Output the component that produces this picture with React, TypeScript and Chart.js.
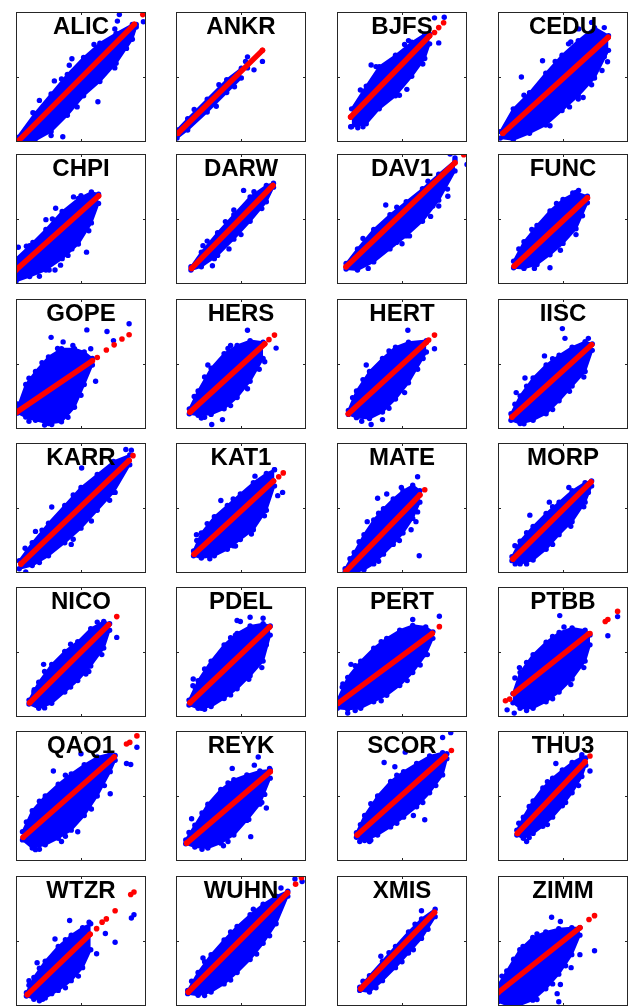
import React, { useEffect, useRef } from 'react';
import { Chart, registerables } from 'chart.js';

Chart.register(...registerables);

// ---------------- DATA (values in normalized axis units 0..100) ----------------
const stations = [
  'ALIC', 'ANKR', 'BJFS', 'CEDU',
  'CHPI', 'DARW', 'DAV1', 'FUNC',
  'GOPE', 'HERS', 'HERT', 'IISC',
  'KARR', 'KAT1', 'MATE', 'MORP',
  'NICO', 'PDEL', 'PERT', 'PTBB',
  'QAQ1', 'REYK', 'SCOR', 'THU3',
  'WTZR', 'WUHN', 'XMIS', 'ZIMM',
];

// Fitted (red) line: start and end
const fitStart = [
  [1.5, 0.5], [1.5, 6.75], [10.5, 19.25], [3.75, 6.75],
  [0, 10.75], [12, 12], [7, 13.25], [12.5, 13.75],
  [0.5, 13], [10.75, 13], [8.75, 11.75], [10.75, 9.25],
  [3.75, 7], [14, 14.5], [7, 1.5], [11.5, 10.75],
  [10.5, 11], [10.75, 11], [0.75, 10.5], [12, 18],
  [5.5, 18.25], [8.25, 13.75], [15.5, 20], [15, 21.25],
  [8.75, 8.75], [9.5, 10.75], [18.25, 13.25], [0, 10.25],
];
const fitEnd = [
  [91, 90.5], [66.5, 70.5], [71.25, 81.75], [84.75, 80.5],
  [63.5, 67.75], [74.5, 75.75], [90.75, 93.25], [68.75, 66.25],
  [58.75, 52.5], [68.25, 65.5], [68.75, 66.75], [72, 64.75],
  [87, 86.5], [75, 70.75], [63.75, 60], [71.5, 70],
  [71.25, 71], [72, 69.25], [73.25, 64.25], [69.5, 63.75],
  [75.5, 80], [72.5, 68.75], [83.25, 80.5], [67, 76.25],
  [57, 55.25], [85.75, 87], [75, 72], [63, 60.25],
];
// Isolated red points beyond the fitted band
const fitExtra = [
  [[97.5, 98]], [], [[75, 84.25], [78.25, 88], [82, 91.75]], [],
  [], [], [[97.5, 99.5]], [],
  [[62.5, 55], [69.5, 60.75], [75.5, 64.75], [81.5, 69.25], [87, 72.5]], [[71.5, 68.75], [75.75, 72.25]], [[70.5, 68.5], [75, 72.25]], [],
  [[90, 90.25]], [[79, 74], [82.5, 77]], [[67.5, 64]], [],
  [[77.5, 77.25]], [], [[78.75, 69.5]], [[5.75, 12.5], [9, 13.75], [70.75, 64.25], [82.5, 73.5], [84.5, 75], [92, 81.25]],
  [[85, 90], [87.5, 91.25], [93, 96.25]], [], [[88, 85]], [[70.75, 80.75]],
  [[62, 59.5], [66.25, 64.5], [69.5, 67], [76.25, 73.25], [88.25, 85.75], [90.75, 87.75]], [[92, 93.75], [96.5, 98.75]], [], [[70, 66.5], [74.25, 69.5]],
];

// Dense blue cloud: envelope read at x stations (lower and upper edge)
const bandX = [
  [1, 14.5, 27, 39.5, 52, 64.5, 77, 89.5, 92.5],
  [0.75, 9, 24, 39, 50.25],
  [11.25, 22.5, 32.5, 45, 57.5, 67.5, 71.25],
  [1.75, 11.75, 24.25, 36.75, 49.25, 61.75, 74.25, 85],
  [0, 10.5, 23, 35.5, 48, 58, 63.5],
  [11.5, 19.5, 32, 44.5, 57, 69.5, 75],
  [7, 15.75, 28.25, 40.75, 53.25, 65.75, 78.25, 90.75],
  [12, 20, 30, 40, 50, 60, 68.75],
  [1.25, 7.5, 15, 25, 35, 45, 52.5, 58.75],
  [10.25, 17, 27, 37, 47, 57, 67],
  [8.75, 15, 25, 35, 45, 55, 68.75],
  [10, 17, 27, 37, 47, 57, 67, 72.5],
  [2.5, 12.5, 25, 37.5, 50, 62.5, 75, 87.5],
  [13.5, 19.5, 29.5, 39.5, 49.5, 59.5, 69.5, 75.75],
  [6.25, 13.25, 20.75, 28.25, 35.75, 43.25, 50.75, 58.25, 63.75],
  [10.75, 17, 27, 37, 47, 57, 67, 72],
  [10, 17.5, 27.5, 37.5, 47.5, 57.5, 67.5, 72],
  [10, 17, 27, 37, 47, 57, 67, 72.5],
  [0.25, 8.25, 18.25, 28.25, 38.25, 48.25, 58.25, 68.25, 73.75],
  [11.5, 17, 27, 37, 47, 57, 67, 70.75],
  [5, 12.5, 22.5, 32.5, 42.5, 52.5, 62.5, 72.5, 76.25],
  [7.5, 14.5, 24.5, 34.5, 44.5, 54.5, 64.5, 72.5],
  [15, 21.25, 31.25, 41.25, 51.25, 61.25, 71.25, 81.25, 84.5],
  [14.5, 19.5, 27, 34.5, 42, 49.5, 57, 64.5, 67.5],
  [8, 13.75, 22.5, 32.5, 42.5, 51.25, 57.5],
  [9, 17, 27, 37, 47, 57, 67, 77, 86],
  [17.5, 25, 35, 45, 55, 65, 75.5],
  [0, 6.75, 16.75, 26.75, 36.75, 46.75, 56.75, 63],
];
const bandLo = [
  [0, 1, 8, 20.5, 35.5, 46.5, 60.5, 79, 88.5],
  [3, 9.25, 23, 38, 49.25],
  [11.75, 14, 25.5, 35.5, 50.5, 64.25, 75.5],
  [3, 1.75, 6.75, 13, 24.25, 35.5, 49.25, 70.5],
  [2, 5.75, 10.75, 19.5, 30.75, 47, 62],
  [10.75, 13.25, 22, 34.5, 48.25, 63.25, 74.5],
  [11.5, 10.75, 17, 27, 37, 48.25, 64.5, 87],
  [12.5, 12, 15, 22.5, 31.25, 42.5, 62.5],
  [12.25, 9.25, 6.75, 4.25, 5.5, 16.75, 34.25, 49.25],
  [11.75, 10.5, 11.25, 15.5, 24.25, 36.75, 54.25],
  [11.25, 8.75, 8, 13, 23, 35.5, 59.25],
  [6.75, 4.25, 6.75, 11.75, 21.75, 33, 44.25, 60.5],
  [3.25, 5.75, 13.25, 23.25, 34.5, 48.25, 62, 83.25],
  [13.25, 11.5, 13.25, 18.25, 25.75, 33.25, 48.25, 67],
  [0.75, 0.75, 2.5, 7, 14.5, 22, 30.75, 42, 54.5],
  [9.5, 7, 10, 18.25, 29.5, 39.5, 54.5, 67],
  [10, 6.75, 10.5, 19.25, 28, 39.25, 53, 66.75],
  [9.25, 6.75, 8, 14.25, 21.75, 31.75, 43, 63],
  [6.75, 6, 6.75, 11.75, 16.75, 24.25, 34.25, 48, 60.5],
  [11, 6.75, 6.75, 11.75, 19.25, 29.25, 43, 55.5],
  [16.25, 10, 12.5, 17.5, 23.75, 35, 50, 68.75, 77.5],
  [13.25, 10.75, 10, 13.75, 20, 31.25, 43.75, 63.75],
  [18.25, 15.75, 20, 26.25, 33.75, 41.75, 52.5, 66.25, 78.75],
  [20, 17.5, 21.25, 26.75, 33.75, 42.5, 52.5, 65, 73.75],
  [7.75, 5.25, 6.25, 12, 19.5, 29.5, 43.25],
  [9.5, 8.25, 10.75, 17, 25.75, 35.75, 48.25, 63.25, 84.5],
  [12, 10.75, 19.5, 29.5, 40.75, 52, 68.75],
  [3.25, 0.75, 0.75, 4.5, 13.25, 24.5, 39.5, 54.5],
];
const bandHi = [
  [3.5, 22, 37, 52, 65, 76, 83.5, 90.5, 90.5],
  [9.25, 18, 33, 48, 56.75],
  [25.5, 43, 58, 66.75, 76.75, 83, 83],
  [8, 25.5, 38, 53, 66.75, 78, 88, 81.75],
  [19.5, 29.5, 42, 55.75, 65.75, 70.75, 69],
  [13.25, 24.5, 39.5, 53.25, 67, 75.75, 77.5],
  [15.75, 27, 42, 53.25, 63.25, 73.25, 84.5, 95],
  [17.5, 32.5, 45, 56.25, 65, 70.5, 67.5],
  [16.75, 34.25, 44.25, 55.5, 61.75, 61.75, 59.25, 54.25],
  [15.5, 29.25, 46.75, 58, 64.25, 68, 66.75],
  [14.25, 29.25, 44.25, 54.25, 63, 66.75, 68],
  [11.75, 25.5, 39.25, 49.25, 56.75, 63, 67.25, 65.5],
  [9.5, 23.25, 38.25, 52, 65.75, 75.75, 85.75, 90.75],
  [17, 30.75, 43.25, 52, 60.75, 69.5, 76.5, 79.5],
  [3.25, 15.75, 29.5, 40.75, 49.5, 57, 63.25, 67.5, 63.25],
  [12.5, 24.5, 35.75, 45.75, 54.5, 63.25, 69.5, 70.75],
  [13, 26.75, 40.5, 50.5, 58, 68, 73.5, 71.75],
  [13, 28, 43, 55.5, 64.25, 70, 71.75, 70],
  [13, 30.5, 43, 53, 60.5, 66.75, 70.5, 69.25, 65.5],
  [18, 34.25, 48, 57.5, 65, 68.5, 66.75, 63],
  [22.5, 38.75, 50, 59, 67, 74, 80, 82.5, 81.25],
  [16.25, 27.5, 43.75, 55, 62.5, 66.25, 69.25, 70],
  [21.75, 35, 50, 61.25, 68.75, 75, 80.75, 83.25, 82.5],
  [23.75, 33.75, 46.25, 56.25, 63.75, 70, 75.75, 80, 79.25],
  [10.25, 22, 34.5, 45.75, 54.5, 60.25, 63.25],
  [12, 25.75, 39.5, 50.75, 61.25, 70.25, 78.25, 84.5, 88.25],
  [14.5, 23.25, 34.5, 45.75, 57, 67, 74.5],
  [15.75, 27, 43.25, 52.75, 57, 59.5, 60.25, 60.25],
];

// Blue dots sitting on the ragged rim of each cloud
const edgeDots = [
  [[13, 22.5], [35, 48.5], [60, 75], [27, 5], [47, 27], [76, 57], [85, 72]],
  [[14, 25], [33, 44], [31, 27.5], [45, 42.5]],
  [[18, 40], [30, 58], [52, 75], [48, 36], [66, 60], [16, 11]],
  [[20, 36], [44, 62], [56, 77], [40, 12.5], [55, 27], [72, 44], [80, 55]],
  [[8, 29], [28, 50], [50, 68], [18, 6], [40, 22], [56, 41]],
  [[24, 33], [38, 48], [60, 71], [28, 14], [50, 38], [66, 58]],
  [[20, 35], [46, 59], [70, 79], [24, 12], [50, 31], [72, 52], [85, 73]],
  [[16, 27], [26, 42], [45, 62], [28, 12], [48, 26], [60, 38]],
  [[10, 39], [20, 51], [32, 62], [10, 6], [22, 3], [40, 9], [50, 26]],
  [[14, 25], [22, 40], [40, 62], [22, 9], [42, 18], [55, 31], [64, 46]],
  [[12, 24], [20, 38], [40, 60], [19, 6], [40, 16], [52, 28], [62, 46]],
  [[13, 19], [22, 33], [42, 54], [20, 4], [42, 15], [55, 29], [66, 40]],
  [[7, 19], [20, 33], [44, 60], [18, 8], [44, 26], [58, 40], [72, 56]],
  [[16, 25], [24, 38], [44, 57], [26, 11], [44, 21], [58, 30], [68, 44]],
  [[10, 11], [17, 24], [32, 46], [16, 0.5], [32, 9], [48, 25], [62, 47]],
  [[13, 21], [22, 31], [42, 51], [22, 7], [42, 22], [56, 36], [66, 51]],
  [[14, 21], [22, 35], [42, 56], [22, 7], [42, 23], [56, 35], [66, 48]],
  [[13, 24], [22, 37], [42, 61], [22, 6], [42, 17], [56, 29], [66, 38]],
  [[4, 23], [14, 39.5], [34, 58], [14, 5], [34, 12.5], [54, 28], [64, 40]],
  [[13, 30], [22, 42], [42, 62], [22, 5], [42, 14], [56, 25], [66, 38]],
  [[8, 30], [18, 46], [38, 66], [18, 9], [38, 19], [58, 40], [68, 58]],
  [[10, 22], [20, 37], [40, 60], [20, 9], [40, 15], [56, 32], [66, 45]],
  [[18, 28], [26, 44], [46, 66], [26, 16], [46, 29], [66, 45], [76, 58]],
  [[16, 29], [24, 42], [38, 61], [24, 18], [38, 28], [52, 45], [62, 58]],
  [[10, 16], [18, 29], [38, 51], [18, 4], [38, 14], [48, 23]],
  [[12, 19], [22, 34], [42, 57], [22, 8], [42, 20], [62, 40], [72, 54]],
  [[20, 19], [40, 41], [60, 63], [30, 14], [50, 34], [70, 59]],
  [[3, 23], [12, 36], [30, 55.5], [30, 5], [42, 17], [52, 31]],
];

// Scattered blue points away from the dense cloud
const outliers = [
  [[18, 32], [29.5, 47], [41, 59], [43, 64], [63, 31], [36, 4], [78, 93], [79.5, 98], [98, 92.5], [89, 83.5], [76, 87], [82, 75]],
  [[55, 65.5], [53.5, 62], [66.5, 62], [60, 55.5], [55, 57], [44, 48]],
  [[75, 95.5], [82.5, 96], [78.25, 76.25], [53.75, 40.5], [26.25, 59.25], [10.5, 11.75], [20, 11.75], [55, 78]],
  [[18, 50], [34.25, 62.5], [54.25, 75.5], [81.75, 88], [81.75, 65.5], [84.25, 61.75], [65.5, 34.25], [61.75, 33], [62, 87], [72, 92]],
  [[1.75, 28.25], [13, 32], [23, 49.5], [30.5, 58.25], [44.25, 67], [54.25, 24.5], [34.25, 14.5], [25.5, 10.75], [30, 10.75], [43, 27]],
  [[29.5, 19.5], [40.75, 27], [20.75, 29.5], [52, 72], [44.5, 57]],
  [[87, 100], [90.75, 97], [100, 92], [85.25, 67.5], [78.25, 60], [73.75, 60], [37.5, 60.75], [55.75, 37], [45.75, 32]],
  [[40, 12.5], [57.5, 70], [65, 52.5], [25, 35], [62, 72]],
  [[87, 81], [54.5, 76.25], [70, 75], [27, 70.5], [36.25, 67], [43.75, 64.25], [57.5, 61.75], [75, 68], [61.25, 36.75], [1.25, 19.25], [27.5, 3.5]],
  [[55, 76], [77, 62.25], [68.25, 51.75], [19.5, 8.5], [27.5, 3.5], [35.75, 7.25], [42, 64.25], [24.5, 49.25]],
  [[54.5, 76], [75, 61.75], [66.25, 54.25], [35, 7.25], [26.25, 3.5], [22.5, 49.25]],
  [[49.5, 77.25], [51.5, 69.75], [69.5, 69.75], [35.75, 56.25], [14, 28], [20.75, 39.25]],
  [[88.75, 94.5], [84.5, 95], [50.5, 80.75], [76.25, 62], [70, 58.25], [42.5, 22], [27.5, 50.75], [15, 32], [8.75, 17], [7.5, 0.75]],
  [[15.75, 29.5], [34.5, 55.75], [47, 55.75], [82, 62], [78.25, 59.5], [45.75, 20.75], [33.25, 18.25], [60.75, 74.5], [75.75, 79.5]],
  [[62, 74], [63.25, 13.25], [31.25, 57.5], [23.25, 39.5], [38.25, 60.75], [49.5, 65.75], [57, 33.25], [60.75, 39.5]],
  [[24.5, 44.5], [39.5, 54.5], [54.5, 65.75], [69.5, 62], [13.25, 7]],
  [[77.5, 61.25], [53.75, 33], [13.75, 19.25], [21.25, 40.5], [62.5, 73]],
  [[47, 74.25], [49.5, 73.5], [57, 76.75], [67, 76], [13.25, 29.25], [15, 21.75], [19.5, 6.75], [45.75, 63], [69.5, 55.5]],
  [[78.75, 77.5], [58.25, 75], [69.5, 48], [10.75, 40.5], [4.5, 25.5], [8.25, 3]],
  [[47.5, 78], [50.75, 69.25], [92, 77.25], [84.5, 62.5], [7, 5.5], [12.5, 3], [16.5, 38]],
  [[93, 87.5], [85, 75], [88.25, 74.25], [72.5, 51.75], [50, 82.5], [28.75, 69.25], [15, 8.75], [35, 15], [56.25, 42.5], [47.5, 22.5]],
  [[63.25, 80], [60.25, 73.75], [72, 71.25], [68.25, 51.25], [69.5, 40.75], [57.5, 18.75], [36.5, 11.75], [12, 32.5], [43.25, 71.25]],
  [[87.5, 98.75], [81.25, 95], [52.5, 83.75], [36.25, 75.75], [44.5, 72.5], [67.5, 31.75], [58.75, 35], [25, 15], [17.5, 15]],
  [[70.75, 69.25], [64.5, 81.75], [44.5, 75], [22, 15]],
  [[88.75, 67.75], [90.75, 70.25], [68.75, 55.75], [76.25, 49], [62, 40.25], [41.25, 65.75], [30, 51.5], [16.25, 33.25], [10, 19.5], [20.5, 5.25], [27.5, 9.5], [56.25, 64.5]],
  [[91.5, 97.75], [97, 95.75], [80.75, 90.75], [75.75, 75.75], [59.5, 74.5], [20.75, 37], [33.25, 18.25]],
  [[33.75, 38.25], [58.75, 43.25], [65, 73.25]],
  [[41.25, 68.25], [48, 65], [60.5, 53.25], [63, 39.5], [74.25, 42.5], [56.25, 29.5], [48, 16.5], [45.5, 9.5], [46.75, 3.25], [19.25, 45.75]],
];

const axisMin = 0;
const axisMax = 100;
const midTick = 50;

// ---------------- LAYOUT ----------------
const BLUE = '#0000ff';
const RED = '#ff0000';
const COL_LEFT = [14, 174, 335, 496];
const ROW_TOP = [10, 152, 297, 441, 585, 729, 874];
const SIZE = 134;
const PAD = 2;
const DOT = 2.7;

const panelPlugin = {
  id: 'panelFrame',
  afterDatasetsDraw(chart: any, _args: any, opts: any) {
    const { ctx, chartArea } = chart;
    const { left, top, right, bottom } = chartArea;
    ctx.save();
    ctx.font = 'bold 24px "Liberation Sans", Arial, Helvetica, sans-serif';
    ctx.fillStyle = '#000000';
    ctx.textAlign = 'center';
    ctx.textBaseline = 'alphabetic';
    ctx.fillText(opts.text || '', (left + right) / 2, top + 22);
    ctx.strokeStyle = '#262626';
    ctx.lineWidth = 1;
    ctx.strokeRect(left + 0.5, top + 0.5, right - left - 1, bottom - top - 1);
    const xm = Math.round(chart.scales.x.getPixelForValue(midTick)) + 0.5;
    const ym = Math.round(chart.scales.y.getPixelForValue(midTick)) + 0.5;
    const t = 3;
    ctx.beginPath();
    ctx.moveTo(xm, bottom); ctx.lineTo(xm, bottom - t);
    ctx.moveTo(xm, top); ctx.lineTo(xm, top + t);
    ctx.moveTo(left, ym); ctx.lineTo(left + t, ym);
    ctx.moveTo(right, ym); ctx.lineTo(right - t, ym);
    ctx.stroke();
    ctx.restore();
  },
};

const toXY = (arr: number[][]) => arr.map(([x, y]) => ({ x, y }));
const zipXY = (xs: number[], ys: number[]) => xs.map((x, i) => ({ x, y: ys[i] }));

const dotSet = (data: any[], color: string, order: number, r = DOT) => ({
  data,
  showLine: false,
  pointRadius: r,
  pointBorderWidth: 0,
  pointBackgroundColor: color,
  fill: false,
  clip: 0,
  order,
});

function Panel({ index }: { index: number }) {
  const ref = useRef<HTMLCanvasElement>(null);
  useEffect(() => {
    const canvas = ref.current;
    if (!canvas) return;
    const chart = new Chart(canvas, {
      type: 'line',
      data: {
        datasets: [
          {
            data: toXY([fitStart[index], fitEnd[index]]),
            borderColor: RED,
            backgroundColor: RED,
            borderWidth: 5.5,
            borderCapStyle: 'round',
            pointRadius: 2.8,
            pointBorderWidth: 0,
            pointBackgroundColor: RED,
            fill: false,
            clip: 0,
            order: 0,
          },
          dotSet(toXY(fitExtra[index]), RED, 1, 2.8),
          dotSet(toXY(outliers[index]), BLUE, 2),
          dotSet(toXY(edgeDots[index]), BLUE, 3),
          {
            data: zipXY(bandX[index], bandHi[index]),
            borderColor: BLUE,
            backgroundColor: BLUE,
            borderWidth: 2,
            borderJoinStyle: 'round',
            borderCapStyle: 'round',
            pointRadius: DOT,
            pointBorderWidth: 0,
            pointBackgroundColor: BLUE,
            fill: '+1',
            clip: 0,
            order: 4,
          },
          {
            data: zipXY(bandX[index], bandLo[index]),
            borderColor: BLUE,
            backgroundColor: BLUE,
            borderWidth: 2,
            borderJoinStyle: 'round',
            borderCapStyle: 'round',
            pointRadius: DOT,
            pointBorderWidth: 0,
            pointBackgroundColor: BLUE,
            fill: false,
            clip: 0,
            order: 5,
          },
        ],
      },
      options: {
        responsive: false,
        animation: false,
        events: [],
        layout: { padding: PAD },
        plugins: {
          legend: { display: false },
          tooltip: { enabled: false },
          title: { display: false },
          panelFrame: { text: stations[index] },
        } as any,
        scales: {
          x: { type: 'linear', min: axisMin, max: axisMax, display: false },
          y: { type: 'linear', min: axisMin, max: axisMax, display: false },
        },
      },
      plugins: [panelPlugin],
    } as any);
    return () => chart.destroy();
  }, [index]);

  const col = index % 4;
  const row = Math.floor(index / 4);
  return (
    <canvas
      ref={ref}
      width={SIZE + 2 * PAD}
      height={SIZE + 2 * PAD}
      style={{
        position: 'absolute',
        left: COL_LEFT[col] - PAD,
        top: ROW_TOP[row] - PAD,
        width: SIZE + 2 * PAD,
        height: SIZE + 2 * PAD,
      }}
    />
  );
}

export default function App() {
  return (
    <div
      style={{
        position: 'absolute',
        left: 0,
        top: 0,
        width: 632,
        height: 1007,
        overflow: 'hidden',
        background: '#ffffff',
      }}
    >
      {stations.map((_, i) => (
        <Panel key={i} index={i} />
      ))}
    </div>
  );
}
